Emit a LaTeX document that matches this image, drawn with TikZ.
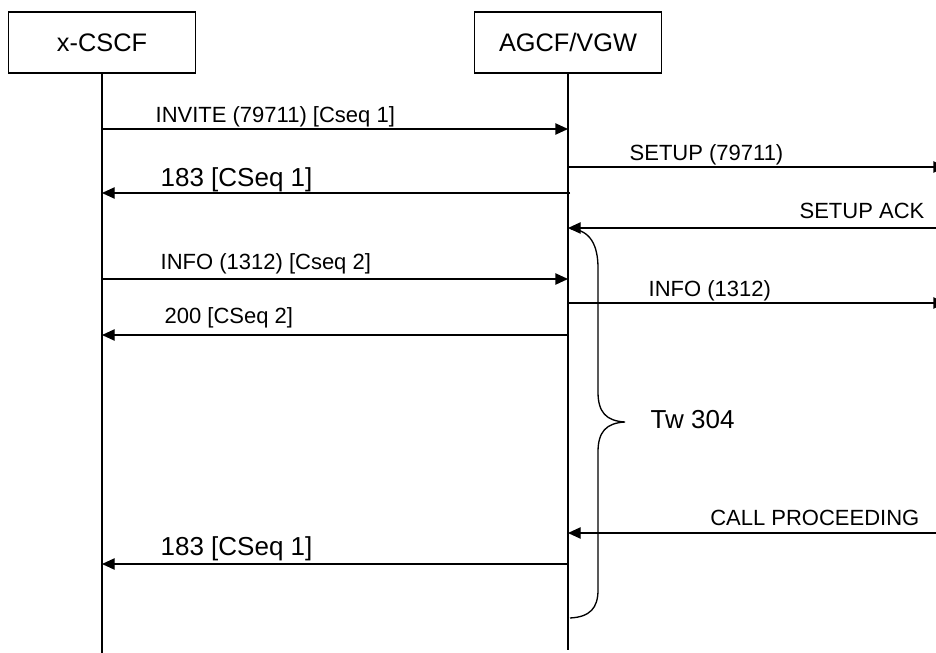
\documentclass[tikz,border=0pt]{standalone}
\usepackage{fontspec}
\setmainfont{Liberation Sans}
\usetikzlibrary{math, calc, arrows.meta}

\begin{document}
\begin{tikzpicture}[x=0.75pt, y=-0.75pt, line width=1pt,
    actor/.style={draw, minimum width=140pt, minimum height=45.75pt, font=\fontsize{19}{22}\selectfont},
    msg/.style={-{Triangle[length=9.5pt, width=8.5pt]}},
    lbl/.style={inner sep=0pt, font=\fontsize{16.5}{19}\selectfont},
    biglbl/.style={inner sep=0pt, font=\fontsize{19.5}{22}\selectfont}]
    \tikzmath{
        \figwidth=936;
        \figheight=653;
        \cscfx=102;
        \agcfx=568;
        \heady=42.5;
    }

    \useasboundingbox (0, 0) rectangle (\figwidth, \figheight);

    % entities
    \node [actor] (cscf) at (\cscfx, \heady) {x-CSCF};
    \node [actor] (agcf) at (\agcfx, \heady) {AGCF/VGW};
    \coordinate (net) at (\figwidth+10, \heady);

    \draw (cscf.south) -- (cscf |- 0, \figheight);
    \draw (agcf.south) -- (agcf |- 0, 650);

    % messages
    \draw [msg] (cscf |- 0, 129) -- (agcf |- 0, 129);
    \node [lbl, anchor=base west] (invite) at (155, 122) {INVITE (79711) [Cseq 1]};
    \draw [msg] (agcf |- 0, 167) -- (net |- 0, 167);
    \node [lbl, anchor=base west] (setup) at (629, 160) {SETUP (79711)};
    \draw [msg] ($ (agcf |- 0, 193) + (2, 0) $) -- (cscf |- 0, 193);
    \node [biglbl, anchor=base west] (prog1) at (160, 186) {183 [CSeq 1]};
    \draw [msg] (net |- 0, 228) -- (agcf |- 0, 228);
    \node [lbl, anchor=base east] (setupack) at (925, 218) {SETUP ACK};
    \draw [msg] (cscf |- 0, 279) -- (agcf |- 0, 279);
    \node [lbl, anchor=base west] (info) at (160, 269) {INFO (1312) [Cseq 2]};
    \draw [msg] (agcf |- 0, 303) -- (net |- 0, 303);
    \node [lbl, anchor=base west] (infoisdn) at (648, 296) {INFO (1312)};
    \draw [msg] (agcf |- 0, 335) -- (cscf |- 0, 335);
    \node [lbl, anchor=base west] (ok) at (164, 323) {200 [CSeq 2]};
    \draw [msg] (net |- 0, 533) -- (agcf |- 0, 533);
    \node [lbl, anchor=base east] (callproc) at (920, 525) {CALL PROCEEDING};
    \draw [msg] (agcf |- 0, 564) -- (cscf |- 0, 564);
    \node [biglbl, anchor=base west] (prog2) at (160, 555) {183 [CSeq 1]};

    % timer
    \draw (571, 229) .. controls (590, 230) and (598, 245) .. (598, 268) -- (598, 392)
        .. controls (598, 412) and (606, 421) .. (625, 422)
        .. controls (606, 423) and (598, 432) .. (598, 452) -- (598, 590)
        .. controls (598, 608) and (590, 617) .. (570, 618);
    \node [biglbl, anchor=base west] (timer) at (650, 428) {Tw 304};
\end{tikzpicture}
\end{document}
